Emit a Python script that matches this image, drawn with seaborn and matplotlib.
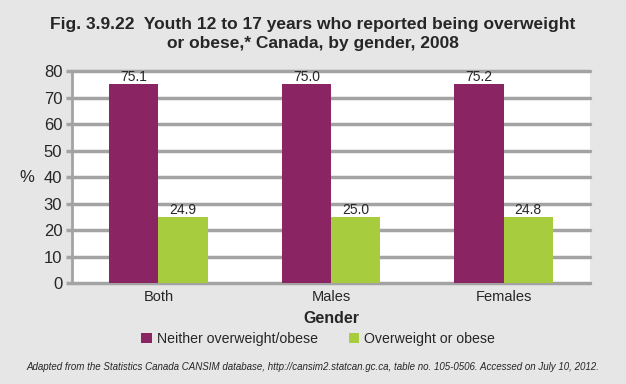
import pandas as pd
import matplotlib.pyplot as plt
import seaborn as sns

genders = ["Both", "Males", "Females"]
neither = [75.1, 75.0, 75.2]
overweight = [24.9, 25.0, 24.8]
series = ["Neither overweight/obese", "Overweight or obese"]

data = pd.DataFrame({
    "gender": genders * 2,
    "status": [series[0]] * 3 + [series[1]] * 3,
    "value": neither + overweight,
})

sns.set_style("white")
plt.rcParams['font.family'] = ['Liberation Sans', 'DejaVu Sans']

bg = "#e6e6e6"
grid = "#a3a3a3"
fig = plt.figure(figsize=(6.26, 3.84), dpi=100, facecolor=bg)
ax = fig.add_axes([0.115, 0.263, 0.8275, 0.552])
ax.set_facecolor("white")

sns.barplot(data=data, x="gender", y="value", hue="status", order=genders,
            hue_order=series, palette=["#8b2463", "#a7cd3f"], width=0.57,
            saturation=1, linewidth=0, ax=ax, legend=True, zorder=3)

for cont in ax.containers:
    ax.bar_label(cont, fmt="%.1f", fontsize=10, padding=0)

ax.set_ylim(0, 80)
ax.set_yticks(range(0, 81, 10))
ax.yaxis.grid(True, color=grid, linewidth=2.5, zorder=0)
for gl in ax.get_ygridlines():
    gl.set_clip_on(False)
ax.set_axisbelow(True)
for side in ["left", "bottom"]:
    ax.spines[side].set_color(grid)
    ax.spines[side].set_linewidth(2)
for side in ["top", "right"]:
    ax.spines[side].set_visible(False)
ax.tick_params(axis="y", length=4, width=2.5, color=grid, labelsize=12, pad=3, left=True)
ax.tick_params(axis="x", length=0, labelsize=10.5, pad=5)
ax.set_ylabel("%", fontsize=12, rotation=0, labelpad=12, va="center")
ax.set_xlabel("Gender", fontsize=11.5, fontweight="bold", labelpad=5)

leg = ax.legend(loc="upper center", bbox_to_anchor=(0.475, -0.17), ncol=2, frameon=False,
                fontsize=10.2, handlelength=0.75, handleheight=0.75, handletextpad=0.35,
                columnspacing=2.2)

fig.text(0.5, 0.955, "Fig. 3.9.22  Youth 12 to 17 years who reported being overweight\nor obese,* Canada, by gender, 2008",
         ha="center", va="top", fontsize=12.5, fontweight="bold", linespacing=1.3)
fig.text(0.5, 0.043, "Adapted from the Statistics Canada CANSIM database, http://cansim2.statcan.gc.ca, table no. 105-0506. Accessed on July 10, 2012.",
         ha="center", va="center", fontsize=7.0, style="italic")

fig.savefig("out.png", dpi=100, facecolor=bg)
